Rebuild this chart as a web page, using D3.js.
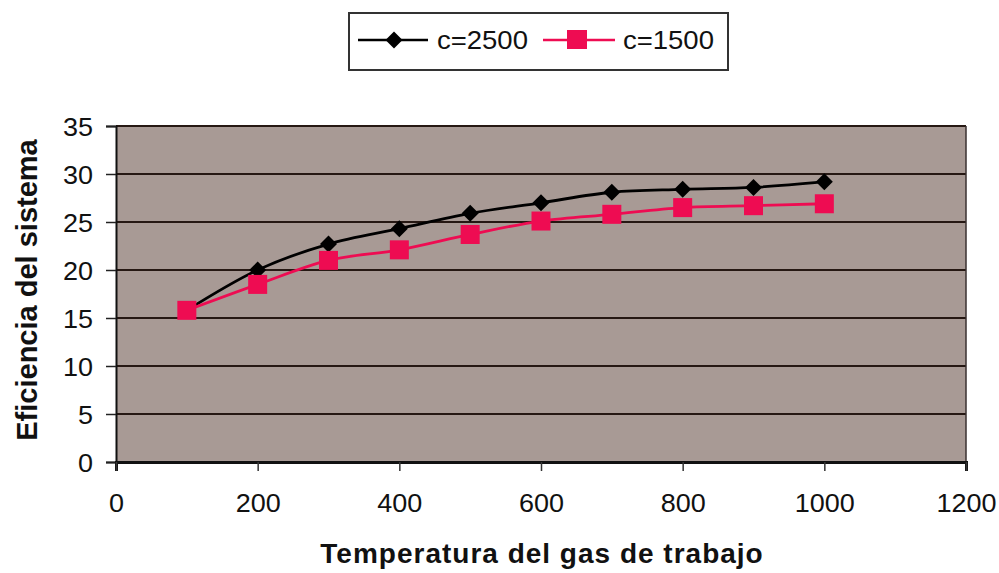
<!DOCTYPE html>
<html><head><meta charset="utf-8">
<script src="https://cdn.jsdelivr.net/npm/d3@7"></script>
<style>html,body{margin:0;padding:0;background:#fff;}svg{display:block;}</style>
</head><body>
<svg id="chart" width="999" height="573"></svg>
<script>
// ---- data ----
const temperatures = [100, 200, 300, 400, 500, 600, 700, 800, 900, 1000];
const eff2500 = [15.8, 20.0, 22.7, 24.3, 25.9, 27.0, 28.1, 28.4, 28.6, 29.2];
const eff1500 = [15.8, 18.5, 21.0, 22.1, 23.7, 25.1, 25.8, 26.5, 26.7, 26.9];
const seriesNames = ["c=2500", "c=1500"];
const xTicks = [0, 200, 400, 600, 800, 1000, 1200];
const yTicks = [0, 5, 10, 15, 20, 25, 30, 35];
const xTitle = "Temperatura del gas de trabajo";
const yTitle = "Eficiencia del sistema";

const svg = d3.select("#chart");
const L = 116, R = 966, T = 126, B = 462;
const x = d3.scaleLinear().domain([0, 1200]).range([L, R]);
const y = d3.scaleLinear().domain([0, 35]).range([B, T]);
const font = "'Liberation Sans', Arial, sans-serif";
const red = "#ee0c52";

// plot background
svg.append("rect").attr("x", L).attr("y", T).attr("width", R - L).attr("height", B - T)
  .attr("fill", "#a89a95");

// gridlines
svg.append("g").selectAll("line").data(yTicks.filter(d => d > 0)).join("line")
  .attr("x1", L).attr("x2", R).attr("y1", d => y(d)).attr("y2", d => y(d))
  .attr("stroke", "#261813").attr("stroke-width", 2.2);
// right border
svg.append("line").attr("x1", R).attr("x2", R).attr("y1", T).attr("y2", B)
  .attr("stroke", "#3a3030").attr("stroke-width", 1.5);

// y axis
const yAxis = svg.append("g").attr("transform", `translate(${L},0)`)
  .call(d3.axisLeft(y).tickValues(yTicks).tickSize(10).tickPadding(0).tickFormat(d3.format("d")));
yAxis.select(".domain").attr("stroke", "#111").attr("stroke-width", 2);
yAxis.selectAll(".tick line").attr("stroke", "#222").attr("stroke-width", 1.5);
yAxis.selectAll(".tick text").remove();
yAxis.selectAll(".tick").append("text")
  .attr("text-anchor", "end").attr("dy", "0.36em")
  .attr("transform", "translate(-23,0) scale(1.08,1)")
  .attr("fill", "#111").style("font-family", font).style("font-size", "25px")
  .text(d => d);

// x axis
const xAxis = svg.append("g").attr("transform", `translate(0,${B})`)
  .call(d3.axisBottom(x).tickValues(xTicks).tickSize(9).tickPadding(0).tickFormat(d3.format("d")));
xAxis.select(".domain").attr("stroke", "#111").attr("stroke-width", 3);
xAxis.selectAll(".tick line").attr("stroke", "#333").attr("stroke-width", 1.5);
xAxis.selectAll(".tick text").remove();
xAxis.selectAll(".tick").append("text")
  .attr("text-anchor", "middle")
  .attr("transform", "translate(0,50) scale(1.08,1)")
  .attr("fill", "#111").style("font-family", font).style("font-size", "25px")
  .text(d => d);

// axis titles
svg.append("text").attr("text-anchor", "middle")
  .attr("transform", "translate(542,563)")
  .style("font-family", font).style("font-size", "28px").style("font-weight", "bold")
  .style("letter-spacing", "1px").attr("fill", "#111").text(xTitle);
svg.append("text").attr("text-anchor", "middle")
  .attr("transform", "translate(37,290) rotate(-90)")
  .style("font-family", font).style("font-size", "29px").style("font-weight", "bold")
  .attr("fill", "#111").text(yTitle);

// lines
const line = d3.line().curve(d3.curveCardinal.tension(0)).x(d => x(d[0])).y(d => y(d[1]));
const d2500 = temperatures.map((t, i) => [t, eff2500[i]]);
const d1500 = temperatures.map((t, i) => [t, eff1500[i]]);

svg.append("path").datum(d2500).attr("d", line).attr("fill", "none")
  .attr("stroke", "#000").attr("stroke-width", 2.8);
svg.append("path").datum(d1500).attr("d", line).attr("fill", "none")
  .attr("stroke", red).attr("stroke-width", 2.8);

const diamond = (cx, cy) => `M${cx},${cy - 8.5}L${cx + 8.5},${cy}L${cx},${cy + 8.5}L${cx - 8.5},${cy}Z`;

svg.append("g").selectAll("path").data(d2500).join("path")
  .attr("d", d => diamond(x(d[0]), y(d[1]))).attr("fill", "#000");
svg.append("g").selectAll("rect").data(d1500).join("rect")
  .attr("x", d => x(d[0]) - 9.5).attr("y", d => y(d[1]) - 9.5)
  .attr("width", 19).attr("height", 19).attr("fill", red);

// legend
const lg = svg.append("g");
lg.append("rect").attr("x", 349).attr("y", 13).attr("width", 379).attr("height", 57)
  .attr("fill", "#fff").attr("stroke", "#333").attr("stroke-width", 2);
lg.append("line").attr("x1", 358).attr("x2", 428).attr("y1", 40).attr("y2", 40)
  .attr("stroke", "#000").attr("stroke-width", 2.5);
lg.append("path").attr("d", diamond(394, 40)).attr("fill", "#000");
lg.append("text").attr("transform", "translate(437,49) scale(1.1,1)")
  .style("font-family", font).style("font-size", "25px").attr("fill", "#111").text(seriesNames[0]);
lg.append("line").attr("x1", 543).attr("x2", 615).attr("y1", 40).attr("y2", 40)
  .attr("stroke", red).attr("stroke-width", 2.5);
lg.append("rect").attr("x", 567).attr("y", 30).attr("width", 20).attr("height", 19).attr("fill", red);
lg.append("text").attr("transform", "translate(623,49) scale(1.1,1)")
  .style("font-family", font).style("font-size", "25px").attr("fill", "#111").text(seriesNames[1]);
</script>
</body></html>
